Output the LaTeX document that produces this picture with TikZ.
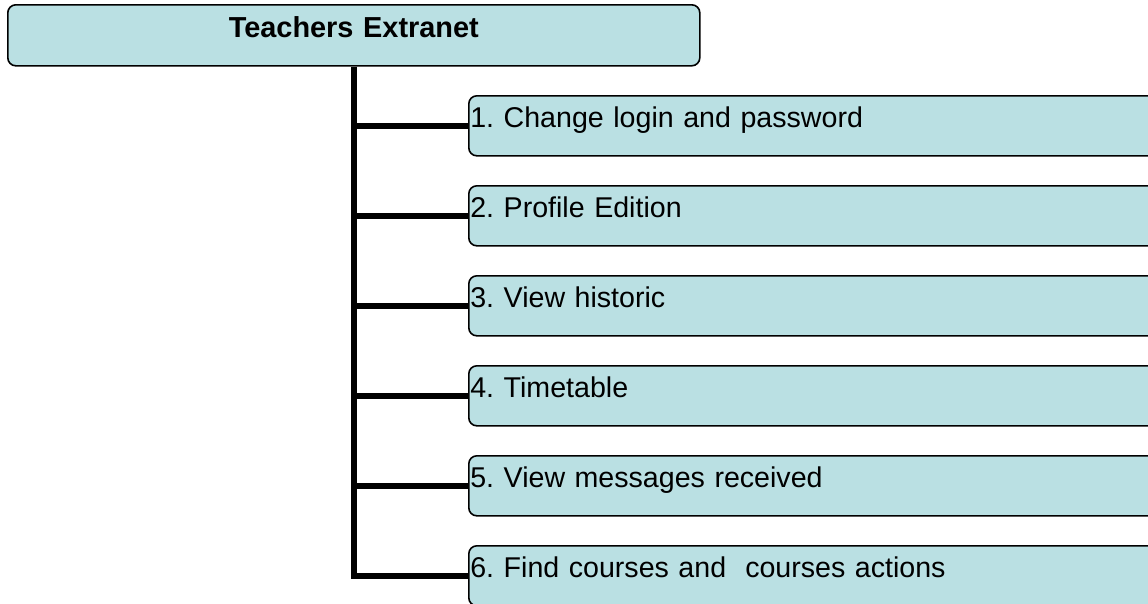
\documentclass[tikz,border=0pt]{standalone}
\usepackage{fontspec}
\setmainfont{Liberation Sans}
\definecolor{boxfill}{RGB}{186,224,227}
\frenchspacing
\begin{document}
\begin{tikzpicture}[x=1pt,y=1pt,
  boxbase/.style={draw=black, line width=1.6pt, fill=boxfill, rounded corners=8pt,
    rectangle, inner ysep=0pt, minimum width=692pt, text depth=28pt},
  topbox/.style={boxbase, text width=690pt, inner xsep=1pt, align=center, text height=33pt,
    font=\fontsize{28.9}{34}\selectfont\bfseries\frenchspacing, anchor=north west},
  childbox/.style={boxbase, text width=689pt, inner xsep=1.5pt, align=left, text height=32pt,
    font=\fontsize{28.6}{34}\selectfont\frenchspacing, anchor=north west},
  conn/.style={draw=black, line width=5.5pt, line join=miter}]
\useasboundingbox (0,0) rectangle (1148,-603);
\clip (0,0) rectangle (1148,-603);
\node[topbox] (top) at (7,-4) {Teachers Extranet};
\node[childbox] (c1) at (468,-95) {1. Change login and password};
\node[childbox] (c2) at (468,-185) {2. Profile Edition};
\node[childbox] (c3) at (468,-275) {3. View historic};
\node[childbox] (c4) at (468,-365) {4. Timetable};
\node[childbox] (c5) at (468,-455) {5. View messages received};
\node[childbox] (c6) at (468,-545) {6. Find courses and\ \ courses actions};
\draw[conn] (top.south) |- (c6.west);
\foreach \c in {c1,c2,c3,c4,c5}{
  \draw[conn] (\c.west -| top.south) -- (\c.west);
}
\end{tikzpicture}
\end{document}
